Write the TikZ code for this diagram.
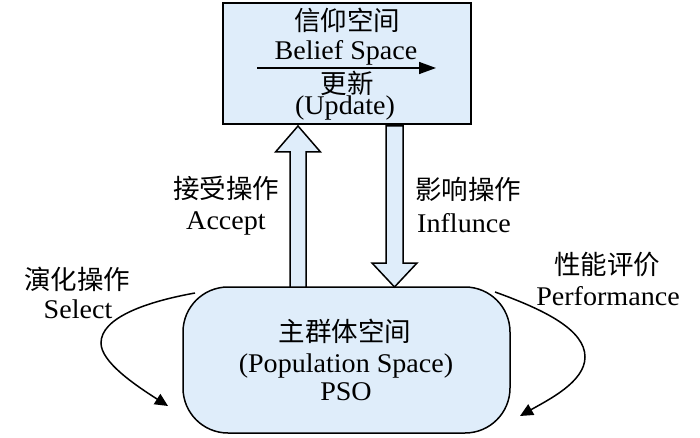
\documentclass[tikz,border=0pt]{standalone}
\usepackage{fontspec}
\setmainfont{Liberation Serif}[FakeStretch=1.04]
\newfontfamily\cjk{Noto Sans CJK SC}
\usetikzlibrary{arrows.meta}
\definecolor{boxblue}{RGB}{223,237,250}
\begin{document}
\begin{tikzpicture}[x=1pt,y=-1pt,
  lbl/.style={inner sep=0pt,font=\fontsize{27}{32}\selectfont},
  zh/.style={lbl,font=\fontsize{26.5}{32}\selectfont\cjk},
  en/.style={lbl,anchor=base},
  spacebox/.style={draw,line width=1.5pt,fill=boxblue,inner sep=0pt},
  blockarrow/.style={draw,line width=1.5pt,fill=boxblue,line join=miter},
  curvearrow/.style={line width=1.5pt,-{Triangle[length=13pt,width=12pt]}}]
\useasboundingbox (0,0) rectangle (700,438);
% boxes
\node[spacebox,minimum width=248pt,minimum height=121pt] (belief) at (347,63.5) {};
\node[spacebox,rounded corners=45pt,minimum width=327pt,minimum height=146pt] (pop) at (346.5,360) {};
% block arrows
\draw[blockarrow] (290,287) -- (290,152) -- (275.5,152) -- (298,126) -- (320.5,152) -- (306,152) -- (306,287) -- cycle;
\draw[blockarrow] (386,126) -- (386,263) -- (372,263) -- (394.5,287) -- (417,263) -- (403,263) -- (403,126) -- cycle;
% texts in top box
\node[zh] (t1) at (347,20) {信仰空间};
\node[en] (t2) at (346,60) {Belief Space};
\coordinate (ua) at (257,68);
\coordinate (ub) at (436,68);
\draw[line width=1.5pt,-{Triangle[length=17pt,width=12pt]}] (ua) -- (ub);
\node[zh] (t3) at (347,83) {更新};
\node[en] (t4) at (345,115) {(Update)};
% bottom box texts
\node[zh] (p1) at (345,331) {主群体空间};
\node[en] (p2) at (346,372) {(Population Space)};
\node[en] (p3) at (346,400) {PSO};
% side labels
\node[zh] (a1) at (226,188) {接受操作};
\node[en] (a2) at (226,229) {Accept};
\node[zh] (i1) at (468,189) {影响操作};
\node[en] (i2) at (464,232) {Influnce};
\node[zh] (s1) at (77,279) {演化操作};
\node[en] (s2) at (78,318) {Select};
\node[zh] (f1) at (607,265) {性能评价};
\node[en] (f2) at (608,305) {Performance};
% curved arrows
\coordinate (ls) at (195,293);
\coordinate (lm) at (101,343);
\coordinate (le) at (168,406);
\draw[curvearrow] (ls) .. controls (145,302) and (101,318) .. (lm) .. controls (101,362) and (135,385) .. (le);
\coordinate (rs) at (495,292);
\coordinate (rm) at (585,357);
\coordinate (re) at (520,416);
\draw[curvearrow] (rs) .. controls (545,310) and (585,330) .. (rm) .. controls (585,382) and (548,400) .. (re);
\end{tikzpicture}
\end{document}
